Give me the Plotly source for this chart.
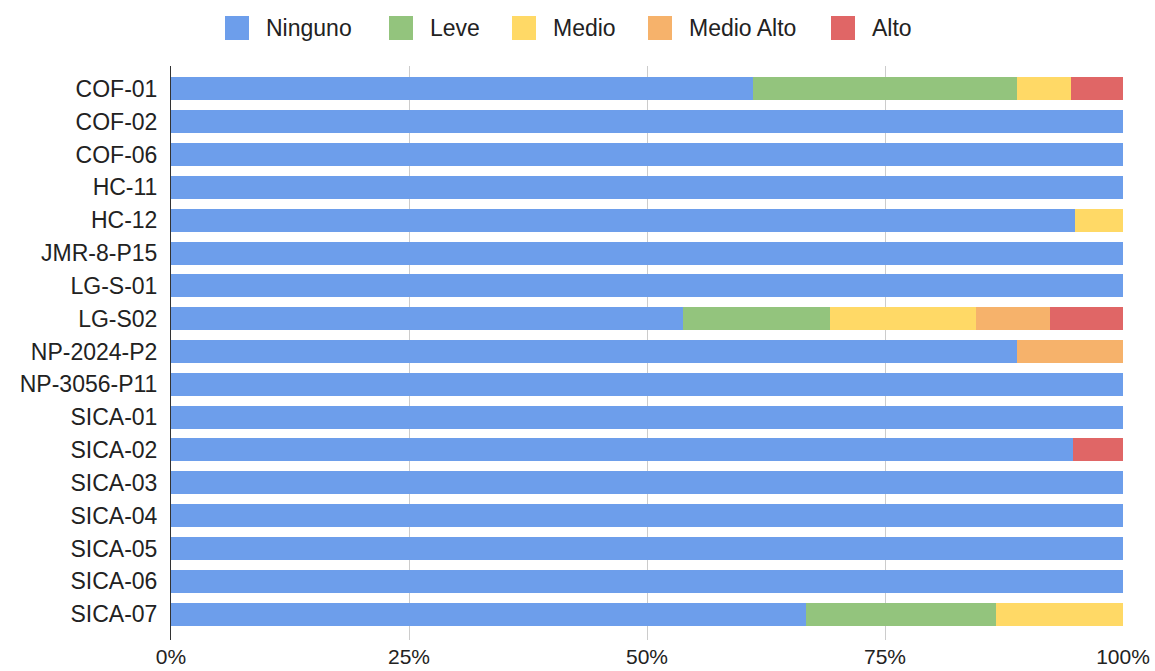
import plotly.graph_objects as go

# Sampling points, listed top to bottom
stations = [
    "COF-01", "COF-02", "COF-06", "HC-11", "HC-12", "JMR-8-P15", "LG-S-01",
    "LG-S02", "NP-2024-P2", "NP-3056-P11", "SICA-01", "SICA-02", "SICA-03",
    "SICA-04", "SICA-05", "SICA-06", "SICA-07",
]

# Share of each risk level per station (%)
ninguno    = [61.1, 100, 100, 100, 95.0, 100, 100, 53.8, 88.9, 100, 100, 94.7, 100, 100, 100, 100, 66.7]
leve       = [27.8, 0, 0, 0, 0, 0, 0, 15.4, 0, 0, 0, 0, 0, 0, 0, 0, 20.0]
medio      = [5.6, 0, 0, 0, 5.0, 0, 0, 15.4, 0, 0, 0, 0, 0, 0, 0, 0, 13.3]
medio_alto = [0, 0, 0, 0, 0, 0, 0, 7.7, 11.1, 0, 0, 0, 0, 0, 0, 0, 0]
alto       = [5.5, 0, 0, 0, 0, 0, 0, 7.7, 0, 0, 0, 5.3, 0, 0, 0, 0, 0]

level_names = ["Ninguno", "Leve", "Medio", "Medio Alto", "Alto"]
level_values = [ninguno, leve, medio, medio_alto, alto]
level_colors = ["#6d9eeb", "#93c47d", "#ffd966", "#f6b26b", "#e06666"]

tick_vals = [0, 25, 50, 75, 100]
tick_text = ["0%", "25%", "50%", "75%", "100%"]

W, H = 1155, 671
ML, MR, MT, MB = 171, 32, 66, 31
FONT = "Liberation Sans, Arial, sans-serif"
TEXT = "#222222"

fig = go.Figure()
for name, vals, color in zip(level_names, level_values, level_colors):
    fig.add_trace(go.Bar(
        y=stations, x=vals, name=name, orientation="h",
        marker=dict(color=color, line=dict(width=0)),
        showlegend=False,
    ))

# Legend row drawn across the top of the figure (pixel layout)
legend_swatch_left = [225, 389, 512, 648, 831]
sw = 24
leg_cy = 28
pw = W - ML - MR
ph = H - MT - MB


def px_to_paper_x(px):
    return (px - ML) / pw


def px_to_paper_y(py):
    return (H - MB - py) / ph


shapes = []
annotations = []
for name, color, left in zip(level_names, level_colors, legend_swatch_left):
    x0, x1 = px_to_paper_x(left), px_to_paper_x(left + sw)
    y0, y1 = px_to_paper_y(leg_cy + sw / 2), px_to_paper_y(leg_cy - sw / 2)
    shapes.append(dict(
        type="rect", xref="paper", yref="paper", x0=x0, x1=x1, y0=y0, y1=y1,
        fillcolor=color, line=dict(width=0), layer="above",
    ))
    annotations.append(dict(
        text=name, xref="paper", yref="paper",
        x=px_to_paper_x(left + sw + 15), y=px_to_paper_y(leg_cy),
        xanchor="left", yanchor="middle", showarrow=False,
        font=dict(family=FONT, size=23, color=TEXT),
    ))

fig.update_layout(
    barmode="stack",
    bargap=0.30,
    width=W, height=H,
    margin=dict(l=ML, r=MR, t=MT, b=MB, autoexpand=False),
    paper_bgcolor="white", plot_bgcolor="white",
    font=dict(family=FONT, size=23, color=TEXT),
    showlegend=False,
    shapes=shapes,
    annotations=annotations,
)

fig.update_xaxes(
    range=[0, 100], tickvals=tick_vals, ticktext=tick_text,
    tickfont=dict(size=21),
    showgrid=True, gridcolor="#cccccc", gridwidth=1,
    zeroline=False, showline=False, ticks="", ticklabelstandoff=2,
    automargin=False, fixedrange=True,
)
fig.update_yaxes(
    range=[16.79, -0.70], showgrid=False, showline=True,
    linecolor="#333333", linewidth=1, ticks="", ticklabelstandoff=8,
    automargin=False, fixedrange=True,
)

fig.write_html("out.html")
